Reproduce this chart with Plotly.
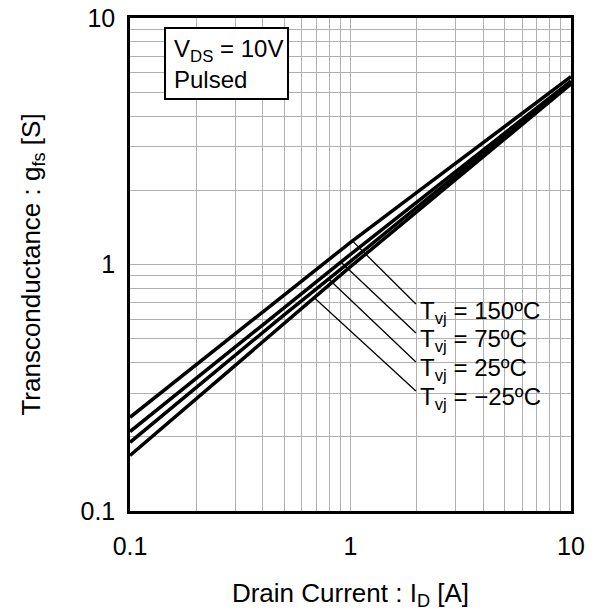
import numpy as np
import plotly.graph_objects as go

# Drain current [A]
drain_current = [0.1, 0.2, 0.5, 1.0, 2.0, 4.0, 10.0]

# Forward transconductance [S] per junction temperature
gfs_150 = [0.240, 0.393, 0.750, 1.23, 1.96, 3.12, 5.78]
gfs_75 = [0.210, 0.346, 0.670, 1.10, 1.79, 2.92, 5.55]
gfs_25 = [0.190, 0.317, 0.625, 1.03, 1.71, 2.84, 5.50]
gfs_m25 = [0.168, 0.286, 0.580, 0.98, 1.64, 2.74, 5.40]

series = [gfs_150, gfs_75, gfs_25, gfs_m25]
labels = ["T<sub>vj</sub> = 150ºC", "T<sub>vj</sub> = 75ºC",
          "T<sub>vj</sub> = 25ºC", "T<sub>vj</sub> = −25ºC"]

# where each leader line touches its curve, and where it ends at the label
leader_x0 = [1.02, 0.904, 0.796, 0.683]
leader_x1 = 1.98
leader_y1 = [0.691, 0.527, 0.402, 0.307]

x_ticks = [0.1, 1, 10]
x_ticktext = ["0.1", "1", "10"]
y_ticks = [0.1, 1, 10]
y_ticktext = ["0.1", "1", "10"]
minor_vals = [m * 10.0 ** e for e in (-1, 0) for m in range(2, 10)]

FONT = "Liberation Sans, Arial, sans-serif"
W, H = 596, 611
L, R, T, B = 130, 571, 18, 511


def px(x):
    return (x - L) / (R - L)


def py(y):
    return (B - y) / (B - T)


def on_curve(xv, ys):
    lx = np.log10(drain_current)
    ly = np.log10(ys)
    return 10 ** np.interp(np.log10(xv), lx, ly)


fig = go.Figure()

for ys in series:
    fig.add_trace(go.Scatter(
        x=drain_current, y=ys, mode="lines",
        line=dict(color="black", width=3.5), showlegend=False,
        hoverinfo="skip"))

for ys, x0, y1 in zip(series, leader_x0, leader_y1):
    fig.add_trace(go.Scatter(
        x=[x0, leader_x1], y=[on_curve(x0, ys), y1], mode="lines",
        line=dict(color="black", width=1.3), showlegend=False,
        hoverinfo="skip"))

shapes = [
    # white panel behind temperature labels
    dict(type="rect", xref="paper", yref="paper",
         x0=px(417), x1=px(568), y0=py(411), y1=py(288),
         fillcolor="white", line=dict(width=0), layer="between"),
    # condition box
    dict(type="rect", xref="paper", yref="paper",
         x0=px(165), x1=px(288), y0=py(99), y1=py(28),
         fillcolor="white", line=dict(color="black", width=2), layer="above"),
]

annotations = [
    dict(xref="paper", yref="paper", x=px(172), y=py(50),
         xanchor="left", yanchor="middle", showarrow=False,
         text="V<sub>DS</sub> = 10V", font=dict(family=FONT, size=24, color="black")),
    dict(xref="paper", yref="paper", x=px(172), y=py(79),
         xanchor="left", yanchor="middle", showarrow=False,
         text="Pulsed", font=dict(family=FONT, size=24, color="black")),
]
for i, lab in enumerate(labels):
    annotations.append(dict(
        xref="paper", yref="paper", x=px(418), y=py(312 + 28.7 * i),
        xanchor="left", yanchor="middle", showarrow=False, text=lab,
        font=dict(family=FONT, size=24, color="black")))

grid = "#b0b0b0"
axis_common = dict(
    type="log", showline=True, linecolor="black", linewidth=2.5, mirror=True,
    showgrid=True, gridcolor=grid, gridwidth=1, zeroline=False,
    ticks="", tickfont=dict(family=FONT, size=25, color="black"),
    minor=dict(tickvals=minor_vals, showgrid=True, gridcolor=grid, gridwidth=1, ticks=""),
)

fig.update_layout(
    width=W, height=H,
    margin=dict(l=L, r=W - R, t=T, b=H - B, autoexpand=False),
    paper_bgcolor="white", plot_bgcolor="white",
    shapes=shapes, annotations=annotations,
    xaxis=dict(axis_common, range=[-1, 1], tickvals=x_ticks, ticktext=x_ticktext,
               ticklabelstandoff=11,
               title=dict(text="Drain Current : I<sub>D</sub> [A]", standoff=30,
                          font=dict(family=FONT, size=26, color="black"))),
    yaxis=dict(axis_common, range=[-1, 1], tickvals=y_ticks, ticktext=y_ticktext,
               ticklabelstandoff=7,
               title=dict(text="Transconductance : g<sub>fs</sub> [S]", standoff=33,
                          font=dict(family=FONT, size=26, color="black"))),
)

fig.write_html("out.html")
